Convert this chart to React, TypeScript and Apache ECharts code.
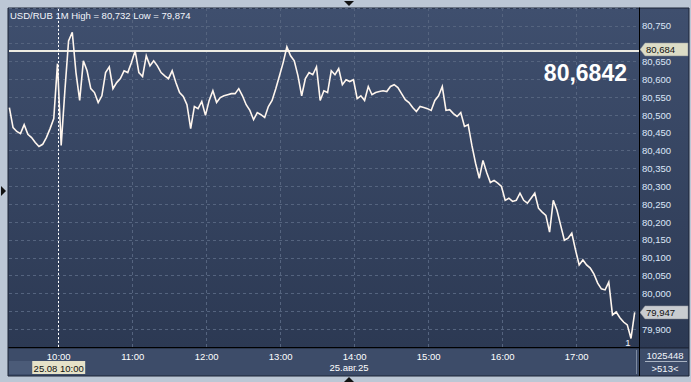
import React, { useEffect, useRef } from "react";
import * as echarts from "echarts";

// ---- data (USD/RUB, 1-minute chart sampled every 3 minutes, 25.08.25) ----
const SYMBOL = "USD/RUB";
const PERIOD = "1M";
const START_MIN = 560; // 09:20 in minutes since midnight
const STEP_MIN = 3;
const X_MIN = 559.7;
const X_MAX = 1070.5;
const CURSOR_MIN = 600; // 10:00 cursor line
const hourTicks = [600, 660, 720, 780, 840, 900, 960, 1020];

const pricesA = [
  80.521, 80.465, 80.454, 80.448, 80.473, 80.446, 80.437, 80.423, 80.412, 80.418,
  80.437, 80.462, 80.49, 80.644, 80.415, 80.568, 80.708, 80.732, 80.619, 80.541,
  80.652, 80.624, 80.574, 80.563, 80.535, 80.554, 80.619, 80.635, 80.574, 80.591,
  80.602, 80.624, 80.619, 80.647, 80.68, 80.619, 80.608, 80.666, 80.638, 80.652,
  80.638, 80.619,
];
const pricesB = [
  80.61, 80.602, 80.624, 80.591, 80.563, 80.552, 80.529, 80.462, 80.524, 80.518,
  80.538, 80.499, 80.541, 80.568, 80.535, 80.549, 80.554, 80.557, 80.56, 80.56,
  80.574, 80.554, 80.529, 80.513, 80.487, 80.507, 80.501, 80.493, 80.524, 80.541,
  80.574, 80.61, 80.647, 80.691, 80.666, 80.652, 80.61, 80.554, 80.602, 80.619,
  80.613, 80.635,
];
const pricesC = [
  80.541, 80.568, 80.563, 80.624, 80.613, 80.63, 80.585, 80.599, 80.594, 80.599,
  80.546, 80.554, 80.541, 80.58, 80.557, 80.563, 80.566, 80.568, 80.566, 80.58,
  80.585, 80.577, 80.56, 80.543, 80.535, 80.521, 80.51, 80.524, 80.521, 80.518,
  80.513, 80.541, 80.554, 80.58, 80.513, 80.515, 80.504, 80.496, 80.507, 80.468,
  80.473, 80.415,
];
const pricesD = [
  80.365, 80.323, 80.373, 80.339, 80.311, 80.317, 80.309, 80.3, 80.261, 80.267,
  80.258, 80.261, 80.281, 80.261, 80.253, 80.267, 80.281, 80.239, 80.228, 80.219,
  80.172, 80.261, 80.233, 80.191, 80.149, 80.155, 80.169, 80.122, 80.08, 80.094,
  80.08, 80.071, 80.054, 80.029, 80.013, 80.01, 80.032, 79.94, 79.948, 79.932,
  79.92, 79.912, 79.874, 79.947,
];
const prices = [...pricesA, ...pricesB, ...pricesC, ...pricesD];

const MARK_PRICE = 80.684;
const BIG_PRICE = "80,6842";
const CURSOR_LABEL = "25.08 10:00";
const DAY_LABEL = "25.авг.25";
const VOLUME_LABEL = "1025448";
const COUNT_LABEL = ">513<";

const FONT = "'Liberation Sans', Arial, sans-serif";
const FS = 9.5;

const fmt = (v: number, d = 3) => v.toFixed(d).replace(".", ",");
const hhmm = (m: number) =>
  `${String(Math.floor(m / 60)).padStart(2, "0")}:${String(Math.round(m % 60)).padStart(2, "0")}`;

export default function App() {
  const ref = useRef<HTMLDivElement>(null);

  useEffect(() => {
    if (!ref.current) return;
    const chart = echarts.init(ref.current, null, { renderer: "svg" });
    const data = prices.map((p, i) => [START_MIN + i * STEP_MIN, p]);
    const high = Math.max(...prices);
    const low = Math.min(...prices);
    const last = prices[prices.length - 1];
    const tagValues = [MARK_PRICE, last];

    chart.setOption({
      animation: false,
      backgroundColor: "#bcc7d5",
      grid: { left: 9, top: 8, width: 630, height: 339, show: false },
      xAxis: {
        type: "value",
        min: X_MIN,
        max: X_MAX,
        axisLine: { show: true, onZero: false, lineStyle: { color: "#000000", width: 1 } },
        axisTick: { show: false, customValues: hourTicks },
        axisLabel: {
          customValues: hourTicks,
          formatter: (v: number) => hhmm(v),
          color: "#ffffff",
          fontSize: FS,
          fontFamily: FONT,
          margin: 4,
        },
        splitLine: { show: true, lineStyle: { color: "#55647f", type: [3, 3], width: 1 } },
      },
      yAxis: {
        type: "value",
        position: "right",
        min: 79.85,
        max: 80.8,
        interval: 0.05,
        axisLine: { show: true, lineStyle: { color: "#000000", width: 1 } },
        axisTick: { show: false },
        axisLabel: {
          showMinLabel: false,
          showMaxLabel: false,
          formatter: (v: number) =>
            tagValues.some((t) => Math.abs(t - v) < 0.02) ? "" : fmt(v),
          color: "#dce6f8",
          fontSize: FS,
          fontFamily: FONT,
          margin: 3,
        },
        splitLine: { show: true, lineStyle: { color: "#55647f", type: [3, 3], width: 1 } },
      },
      series: [
        {
          type: "line",
          data,
          symbol: "none",
          lineStyle: { color: "#fff6ee", width: 1.6, join: "miter" },
          z: 5,
          markLine: {
            silent: true,
            symbol: "none",
            label: { show: false },
            data: [
              { yAxis: MARK_PRICE, lineStyle: { color: "#ecebe3", width: 2, type: "solid" } },
              { xAxis: CURSOR_MIN, lineStyle: { color: "#ffffff", width: 1, type: [2, 2] } },
            ],
          },
        },
      ],
    });

    const yMark = chart.convertToPixel({ yAxisIndex: 0 }, MARK_PRICE) as number;
    const yLast = chart.convertToPixel({ yAxisIndex: 0 }, last) as number;
    const xCursor = chart.convertToPixel({ xAxisIndex: 0 }, CURSOR_MIN) as number;

    const tag = (y: number, text: string, fill: string) => ({
      type: "group",
      z: 100,
      children: [
        {
          type: "polygon",
          shape: {
            points: [
              [640, y],
              [645, y - 6.5],
              [688, y - 6.5],
              [688, y + 6.5],
              [645, y + 6.5],
            ],
          },
          style: { fill, stroke: "#8a8f96", lineWidth: 0.5 },
        },
        {
          type: "text",
          x: 646,
          y: y + 0.5,
          style: { text, fill: "#111111", font: `${FS}px ${FONT}`, verticalAlign: "middle" },
        },
      ],
    });

    const txt = (x: number, y: number, text: string, align = "center", fill = "#f2f5fb") => ({
      type: "text",
      z: 100,
      x,
      y,
      style: { text, fill, font: `${FS}px ${FONT}`, align, verticalAlign: "middle" },
    });

    chart.setOption({
      graphic: [
        {
          type: "rect",
          z: -1,
          shape: { x: 8, y: 8, width: 681, height: 340 },
          style: {
            fill: new echarts.graphic.LinearGradient(0, 0, 0, 1, [
              { offset: 0, color: "#3f4f6e" },
              { offset: 1, color: "#2c3953" },
            ]),
            stroke: "#1c2436",
            lineWidth: 1,
          },
        },
        {
          type: "rect",
          z: -1,
          shape: { x: 8, y: 348, width: 681, height: 28 },
          style: { fill: "#3d4c69", stroke: "#1c2436", lineWidth: 1 },
        },
        {
          type: "rect",
          z: -1,
          shape: { x: 9, y: 361, width: 23, height: 13 },
          style: { fill: "#4b5b78" },
        },
        {
          type: "line",
          z: 50,
          shape: { x1: 639.5, y1: 347, x2: 639.5, y2: 376 },
          style: { stroke: "#000000", lineWidth: 1 },
        },
        {
          type: "line",
          z: 50,
          shape: { x1: 636.5, y1: 350, x2: 636.5, y2: 374 },
          style: { stroke: "#7d8aa0", lineWidth: 1 },
        },
        txt(10, 15, `${SYMBOL} ${PERIOD} High = ${fmt(high)} Low = ${fmt(low)}`, "left"),
        {
          type: "text",
          z: 100,
          x: 627,
          y: 73,
          style: {
            text: BIG_PRICE,
            fill: "#ffffff",
            font: `bold 23px ${FONT}`,
            align: "right",
            verticalAlign: "middle",
          },
        },
        tag(yMark, fmt(MARK_PRICE), "#dcdcc6"),
        tag(yLast, fmt(last), "#c9ccd0"),
        {
          type: "group",
          z: 100,
          children: [
            {
              type: "rect",
              shape: { x: xCursor - 26.5, y: 361, width: 53, height: 13 },
              style: { fill: "#e6e2c8" },
            },
            {
              type: "text",
              x: xCursor,
              y: 368,
              style: {
                text: CURSOR_LABEL,
                fill: "#111111",
                font: `${FS}px ${FONT}`,
                align: "center",
                verticalAlign: "middle",
              },
            },
          ],
        },
        txt(349, 367, DAY_LABEL, "center", "#ffffff"),
        txt(665, 355, VOLUME_LABEL),
        {
          type: "line",
          z: 100,
          shape: { x1: 645, y1: 361.5, x2: 687, y2: 361.5 },
          style: { stroke: "#a9b3c3", lineWidth: 1 },
        },
        txt(665, 368, COUNT_LABEL),
        txt(628, 342, "1"),
        {
          type: "polygon",
          z: 100,
          shape: { points: [[344, 1], [354, 1], [349, 6]] },
          style: { fill: "#111111" },
        },
        {
          type: "polygon",
          z: 100,
          shape: { points: [[344, 382], [354, 382], [349, 377]] },
          style: { fill: "#111111" },
        },
        {
          type: "polygon",
          z: 100,
          shape: { points: [[1, 186], [1, 196], [6, 191]] },
          style: { fill: "#111111" },
        },
      ],
    });

    return () => chart.dispose();
  }, []);

  return (
    <div
      ref={ref}
      style={{ position: "fixed", left: 0, top: 0, width: 691, height: 382 }}
    />
  );
}
